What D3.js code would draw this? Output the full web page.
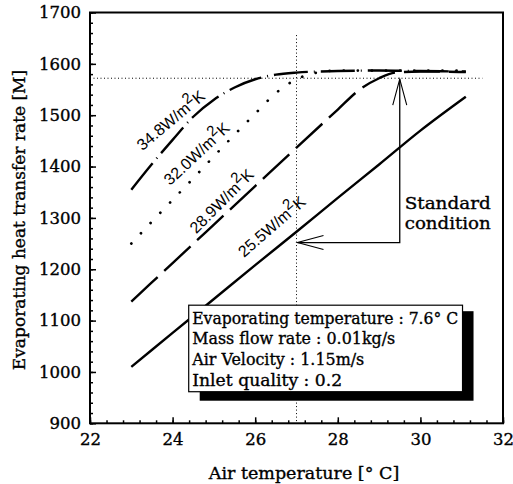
<!DOCTYPE html>
<html>
<head>
<meta charset="utf-8">
<script src="https://cdn.jsdelivr.net/npm/d3@7"></script>
<style>
  html, body { margin: 0; padding: 0; background: #fff; }
  svg { display: block; }
  text { fill: #000; }
  .heavy { stroke: #000; stroke-width: 0.35px; }
</style>
</head>
<body>
<svg id="chart" width="513" height="484"></svg>
<script>
// Evaporating heat transfer rate vs. air temperature, one curve per air-side coefficient
const xTickValues = [22, 24, 26, 28, 30, 32];
const yTickValues = [900, 1000, 1100, 1200, 1300, 1400, 1500, 1600, 1700];

const temp255 = [23, 24, 25, 26, 27, 28, 29, 30, 31.1];
const rate255 = [1010, 1076, 1142, 1208, 1273, 1339, 1404, 1470, 1536];

const temp289 = [23, 24, 25, 26, 27, 28, 28.5, 29, 29.4, 30, 31.1];
const rate289 = [1137, 1212, 1287, 1362, 1437, 1511, 1548, 1572, 1583, 1585, 1584];

const temp320 = [23, 23.5, 24, 24.5, 25, 25.5, 26, 26.5, 27, 27.5, 28, 29, 30, 31.1];
const rate320 = [1250, 1293, 1335, 1377, 1420, 1462, 1503, 1543, 1570, 1583, 1587, 1587, 1587, 1587];

const temp348 = [23, 23.5, 24, 24.5, 25, 25.5, 26, 26.5, 27, 28, 29, 30, 31.1];
const rate348 = [1355, 1405, 1452, 1497, 1530, 1554, 1570, 1579, 1583, 1586, 1587, 1586, 1585];

const curveNames = ["25.5", "28.9", "32.0", "34.8"];
const labelTemp = [25.73, 24.57, 23.94, 23.27];
const labelRate = [1222, 1268, 1362, 1430];
const labelAngle = [-41, -45, -43, -40];

// standard operating point and reference lines
const standardTemp = 27;
const standardRate = 1572;
const designTemp = 29.5;
const arrowRate = 1252;

const conditionLines = [
  "Evaporating temperature : 7.6\u00b0 C",
  "Mass flow rate : 0.01kg/s",
  "Air Velocity : 1.15m/s",
  "Inlet quality : 0.2"
];

const svg = d3.select("#chart");
const plotLeft = 90, plotRight = 503, plotTop = 12.5, plotBottom = 423.3;

const x = d3.scaleLinear().domain([22, 32]).range([plotLeft, plotRight]);
const y = d3.scaleLinear().domain([900, 1700]).range([plotBottom, plotTop]);

const serif = "'DejaVu Serif', serif";
const sans = "'Liberation Sans', Arial, sans-serif";

// reference lines at the standard condition
svg.append("line")
  .attr("x1", x(22)).attr("x2", x(31.5))
  .attr("y1", y(standardRate)).attr("y2", y(standardRate))
  .attr("stroke", "#000").attr("stroke-width", 1).attr("stroke-dasharray", "1,2.5");
svg.append("line")
  .attr("x1", x(standardTemp)).attr("x2", x(standardTemp))
  .attr("y1", y(1656)).attr("y2", y(900))
  .attr("stroke", "#000").attr("stroke-width", 1).attr("stroke-dasharray", "1,2.5");

// curves
const series = [
  { t: temp255, r: rate255, dash: null, cap: "butt" },
  { t: temp289, r: rate289, dash: "36,9", cap: "butt" },
  { t: temp320, r: rate320, dash: "0.1,14", cap: "round" },
  { t: temp348, r: rate348, dash: "34,6,1,6", cap: "butt" }
];
const line = d3.line().x(d => x(d[0])).y(d => y(d[1])).curve(d3.curveMonotoneX);
series.forEach(s => {
  svg.append("path")
    .datum(s.t.map((t, i) => [t, s.r[i]]))
    .attr("d", line)
    .attr("fill", "none")
    .attr("stroke", "#000")
    .attr("stroke-width", s.cap === "round" ? 2.7 : 2.4)
    .attr("stroke-linecap", s.cap)
    .attr("stroke-dasharray", s.dash);
});

// curve labels
curveNames.forEach((name, i) => {
  const px = x(labelTemp[i]), py = y(labelRate[i]);
  const t = svg.append("text")
    .attr("transform", `translate(${px},${py}) rotate(${labelAngle[i]})`)
    .attr("font-family", sans).attr("font-size", 16);
  t.append("tspan").text(name + "W/m");
  t.append("tspan").attr("dy", -7).attr("font-size", 15).text("2");
  t.append("tspan").attr("dy", 7).text("K");
});

// standard condition arrows
function arrowHead(tipX, tipY, dirX, dirY) {
  const len = 26, half = 7;
  const bx = tipX - dirX * len, by = tipY - dirY * len;
  const nx = -dirY, ny = dirX;
  svg.append("path")
    .attr("d", `M${bx + nx * half},${by + ny * half}L${tipX},${tipY}L${bx - nx * half},${by - ny * half}`)
    .attr("fill", "none").attr("stroke", "#000").attr("stroke-width", 1.1);
}
svg.append("path")
  .attr("d", `M${x(designTemp)},${y(standardRate) + 1}V${y(arrowRate)}H${x(standardTemp) + 1}`)
  .attr("fill", "none").attr("stroke", "#000").attr("stroke-width", 1.3);
arrowHead(x(designTemp), y(standardRate) + 1, 0, -1);
arrowHead(x(standardTemp) + 1, y(arrowRate), -1, 0);

const std = svg.append("text").attr("class", "heavy")
  .attr("font-family", serif).attr("font-size", 16.5);
std.append("tspan").attr("x", x(29.62)).attr("y", y(1317))
  .attr("textLength", 86).attr("lengthAdjust", "spacingAndGlyphs").text("Standard");
std.append("tspan").attr("x", x(29.62)).attr("y", y(1278))
  .attr("textLength", 86).attr("lengthAdjust", "spacingAndGlyphs").text("condition");

// operating conditions box with drop shadow
const bx0 = x(24.39), bx1 = x(31.02), by0 = y(1130), by1 = y(961.5);
svg.append("rect")
  .attr("x", bx0 + 11).attr("y", by0 + 6)
  .attr("width", bx1 - bx0).attr("height", by1 - by0 + 3)
  .attr("fill", "#000");
svg.append("rect")
  .attr("x", bx0).attr("y", by0)
  .attr("width", bx1 - bx0).attr("height", by1 - by0)
  .attr("fill", "#fff").attr("stroke", "#000").attr("stroke-width", 1.2);
const lineWidths = [266, 203, 172, 150];
conditionLines.forEach((s, i) => {
  svg.append("text").attr("class", "heavy")
    .attr("x", bx0 + 3.5).attr("y", by0 + 18.5 + i * 20.8)
    .attr("font-family", serif).attr("font-size", 16.5)
    .attr("textLength", lineWidths[i]).attr("lengthAdjust", "spacingAndGlyphs")
    .text(s);
});

// axes: ticks drawn inward, minor and major
const xMinor = d3.range(22, 32.001, 0.4);
const yMinor = d3.range(900, 1700.001, 20);

svg.append("g").attr("transform", `translate(0,${plotBottom})`)
  .call(d3.axisBottom(x).tickValues(xMinor).tickSize(-3).tickFormat(""))
  .call(g => g.select(".domain").remove());
svg.append("g").attr("transform", `translate(${plotLeft},0)`)
  .call(d3.axisLeft(y).tickValues(yMinor).tickSize(-3).tickFormat(""))
  .call(g => g.select(".domain").remove());

const xAxis = svg.append("g").attr("transform", `translate(0,${plotBottom})`)
  .call(d3.axisBottom(x).tickValues(xTickValues).tickSize(-6).tickPadding(10).tickFormat(d3.format("d")))
  .call(g => g.select(".domain").remove());
xAxis.selectAll("text").attr("class", "heavy").attr("font-family", serif).attr("font-size", 16.5).attr("fill", "#000");

const yAxis = svg.append("g").attr("transform", `translate(${plotLeft},0)`)
  .call(d3.axisLeft(y).tickValues(yTickValues).tickSize(-6).tickPadding(9).tickFormat(d3.format("d")))
  .call(g => g.select(".domain").remove());
yAxis.selectAll("text").attr("class", "heavy").attr("font-family", serif).attr("font-size", 16.5).attr("fill", "#000");
svg.selectAll(".tick line").attr("stroke", "#000").attr("stroke-width", 1.5);

// frame
svg.append("rect")
  .attr("x", plotLeft).attr("y", plotTop)
  .attr("width", plotRight - plotLeft).attr("height", plotBottom - plotTop)
  .attr("fill", "none").attr("stroke", "#000").attr("stroke-width", 2);

// axis titles
svg.append("text").attr("class", "heavy")
  .attr("x", 304).attr("y", 479)
  .attr("text-anchor", "middle")
  .attr("font-family", serif).attr("font-size", 17.5)
  .text("Air temperature [\u00b0 C]");
svg.append("text").attr("class", "heavy")
  .attr("transform", `translate(25,220) rotate(-90)`)
  .attr("text-anchor", "middle")
  .attr("font-family", serif).attr("font-size", 17)
  .text("Evaporating heat transfer rate [M]");
</script>
</body>
</html>
